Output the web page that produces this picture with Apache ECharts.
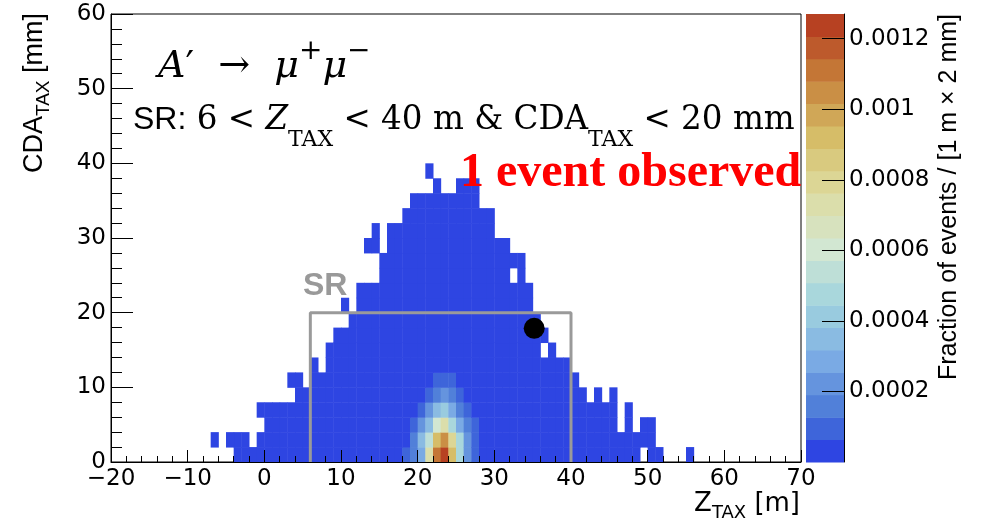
<!DOCTYPE html>
<html>
<head>
<meta charset="utf-8">
<title>A' to mu+ mu- : CDA vs Z</title>
<script src="https://cdn.jsdelivr.net/npm/echarts@6/dist/echarts.min.js"></script>
<style>html,body{margin:0;padding:0;background:#fff}#chart{width:986px;height:527px}</style>
</head>
<body>
<div id="chart"></div>
<script>
// ---------------- data ----------------
// Z_TAX bins (lower edge, m; 1 m wide) and the top of the filled column (CDA_TAX, mm; 2 mm bins)
const zBinLow = [-7,-6,-5,-4,-3,-2,-1,0,1,2,3,4,5,6,7,8,9,10,11,12,13,14,15,16,17,18,19,20,21,22,23,24,25,26,27,28,29,30,31,32,33,34,35,36,37,38,39,40,41,42,43,44,45,46,47,48,49,50,51,52,53,54,55];
const cdaTop  = [ 0, 0, 0, 4, 4, 2, 4,8,8,8,8,12,10,14,12,16,18,18,20,24,24,24,28,32,32,34,36,36,36,38,36,36,38,38,38,34,34,30,30,28,28,24,20,14,16,14,14,12,10, 8,10, 8,10, 4, 8, 4, 6, 6, 2, 0, 0, 0, 2];
// isolated filled cells above the columns [Z low edge, CDA low edge]
const extraCells = [[-7,2],[-5,2],[-1,6],[3,10],[10,20],[13,28],[14,28],[14,30],[21,38],[36,16]];
// empty cells inside the columns
const holeCells = [[32,24],[49,0]];
// fraction of events in the ordinary (lowest colour) cells
const baseFraction = 0.00003;
// hot spot: rows of CDA (0-2, 2-4, ... mm), columns Z = 18 ... 27 m
const hotZStart = 18;
const hotCdaLow = [0, 2, 4, 6, 8, 10];
const hotRows = [
  [0.00009, 0.00016, 0.00028, 0.00073, 0.00111, 0.00126, 0.00092, 0.00047, 0.00022, 0.00009],
  [0.00003, 0.00016, 0.00035, 0.00054, 0.00092, 0.00105, 0.00079, 0.00047, 0.00022, 0.00009],
  [0.00003, 0.00009, 0.00022, 0.00035, 0.00060, 0.00073, 0.00047, 0.00028, 0.00016, 0.00009],
  [0.00003, 0.00003, 0.00009, 0.00022, 0.00035, 0.00041, 0.00028, 0.00016, 0.00009, 0.00003],
  [0.00003, 0.00003, 0.00003, 0.00009, 0.00016, 0.00022, 0.00016, 0.00009, 0.00003, 0.00003],
  [0.00003, 0.00003, 0.00003, 0.00003, 0.00009, 0.00009, 0.00009, 0.00003, 0.00003, 0.00003]
];
// observed event
const eventZ = [35.2];
const eventCda = [17.9];
// signal region box
const srZ   = [6, 6, 40, 40];
const srCda = [0, 20, 20, 0];
// colour scale
const zColMin = 0;
const zColMax = 0.00127;
const nLevels = 20;
const colorTickStep = 0.0002;

// ---------------- palette (ROOT kLightTemperature) ----------------
const ltStops = [0, 0.125, 0.25, 0.375, 0.5, 0.625, 0.75, 0.875, 1];
const ltR = [31, 71, 123, 160, 210, 222, 214, 199, 183];
const ltG = [40, 117, 171, 211, 231, 220, 190, 132, 65];
const ltB = [234, 214, 228, 222, 210, 160, 105, 60, 34];
function palette(t) {
  let k = 0;
  while (k < ltStops.length - 2 && t > ltStops[k + 1]) k++;
  const f = (t - ltStops[k]) / (ltStops[k + 1] - ltStops[k]);
  const c = a => Math.round(a[k] + f * (a[k + 1] - a[k]));
  return 'rgb(' + c(ltR) + ',' + c(ltG) + ',' + c(ltB) + ')';
}
const levelW = (zColMax - zColMin) / nLevels;
const pieces = [];
const bandData = [];
for (let c = 0; c < nLevels; c++) {
  const idx = Math.floor((c + 0.99) * 255 / nLevels);
  const lo = zColMin + c * levelW, hi = zColMin + (c + 1) * levelW;
  const p = { gte: lo, color: palette(idx / 254) };
  if (c === nLevels - 1) p.lte = hi; else p.lt = hi;
  pieces.push(p);
  bandData.push([lo, hi, (lo + hi) / 2]);
}

// ---------------- build the histogram cells ----------------
const cells = new Map();
zBinLow.forEach((z, i) => {
  for (let y = 0; y < cdaTop[i]; y += 2) cells.set(z + ',' + y, [z, y, baseFraction]);
});
extraCells.forEach(([z, y]) => cells.set(z + ',' + y, [z, y, baseFraction]));
holeCells.forEach(([z, y]) => cells.delete(z + ',' + y));
hotRows.forEach((row, r) => row.forEach((v, k) => {
  const z = hotZStart + k, y = hotCdaLow[r];
  cells.set(z + ',' + y, [z, y, v]);
}));
const histData = Array.from(cells.values());

// ---------------- chart ----------------
const tickFont = { fontFamily: 'DejaVu Sans', fontSize: 23, color: '#000' };
const chart = echarts.init(document.getElementById('chart'), null, { renderer: 'canvas' });
chart.setOption({
  animation: false,
  backgroundColor: '#fff',
  grid: [
    { left: 111, top: 14, width: 690, height: 448, show: true, borderColor: '#000', borderWidth: 1, backgroundColor: 'transparent' },
    { left: 806, top: 14, width: 38, height: 448 }
  ],
  xAxis: [
    { gridIndex: 0, type: 'value', min: -20, max: 70, interval: 10, z: 10,
      axisLine: { show: true, onZero: false, lineStyle: { color: '#000', width: 1 } },
      axisTick: { show: true, inside: true, length: 12, lineStyle: { color: '#000' } },
      minorTick: { show: true, splitNumber: 5, length: 6, lineStyle: { color: '#000' } },
      splitLine: { show: false },
      axisLabel: Object.assign({ margin: 6, formatter: v => (v < 0 ? '\u2212' + Math.abs(v) : String(v)) }, tickFont) },
    { gridIndex: 1, type: 'value', min: 0, max: 1, show: false }
  ],
  yAxis: [
    { gridIndex: 0, type: 'value', min: 0, max: 60, interval: 10, z: 10,
      axisLine: { show: true, onZero: false, lineStyle: { color: '#000', width: 1 } },
      axisTick: { show: true, inside: true, length: 22, lineStyle: { color: '#000' } },
      minorTick: { show: true, splitNumber: 5, length: 11, lineStyle: { color: '#000' } },
      splitLine: { show: false },
      axisLabel: Object.assign({ margin: 5 }, tickFont) },
    { gridIndex: 1, type: 'value', position: 'right', min: zColMin, max: zColMax, interval: colorTickStep, z: 10,
      axisLine: { show: true, onZero: false, lineStyle: { color: '#000', width: 1 } },
      axisTick: { show: true, inside: true, length: 22, lineStyle: { color: '#000' } },
      splitLine: { show: false },
      axisLabel: Object.assign({ margin: 5, showMaxLabel: false, showMinLabel: false,
        formatter: v => (v === 0 ? '' : String(parseFloat(v.toPrecision(6)))) }, tickFont) }
  ],
  visualMap: {
    type: 'piecewise', show: false, dimension: 2, seriesIndex: [0, 1], pieces: pieces
  },
  series: [
    { type: 'custom', xAxisIndex: 0, yAxisIndex: 0, z: 2, data: histData,
      encode: { x: 0, y: 1 },
      renderItem: (params, api) => {
        const z = api.value(0), y = api.value(1);
        const p0 = api.coord([z, y + 2]);
        const p1 = api.coord([z + 1, y]);
        return { type: 'rect',
          shape: { x: p0[0], y: p0[1], width: p1[0] - p0[0] + 0.5, height: p1[1] - p0[1] + 0.5 },
          style: { fill: api.visual('color') } };
      } },
    { type: 'custom', xAxisIndex: 1, yAxisIndex: 1, z: 2, data: bandData,
      encode: { y: [0, 1] },
      renderItem: (params, api) => {
        const p0 = api.coord([0, api.value(1)]);
        const p1 = api.coord([1, api.value(0)]);
        return { type: 'rect',
          shape: { x: p0[0], y: p0[1], width: p1[0] - p0[0], height: p1[1] - p0[1] + 0.5 },
          style: { fill: api.visual('color') } };
      } },
    { type: 'line', xAxisIndex: 0, yAxisIndex: 0, z: 15, symbol: 'none',
      data: srZ.map((z, i) => [z, srCda[i]]),
      lineStyle: { color: '#9a9a9a', width: 3 } },
    { type: 'scatter', xAxisIndex: 0, yAxisIndex: 0, z: 20, symbol: 'circle', symbolSize: 21,
      data: eventZ.map((z, i) => [z, eventCda[i]]),
      itemStyle: { color: '#000', opacity: 1 } }
  ],
  graphic: [
    { type: 'text', x: 158, y: 38, z: 30, style: {
        text: '{i|A}{n|\u2032  \u2192  }{i|\u03bc}{p|+}{i|\u03bc}{p|\u2212}',
        align: 'left', verticalAlign: 'top', fill: '#000',
        rich: {
          i: { fontFamily: 'DejaVu Serif', fontStyle: 'italic', fontSize: 38, lineHeight: 48, verticalAlign: 'bottom', fill: '#000' },
          n: { fontFamily: 'DejaVu Serif', fontSize: 38, lineHeight: 48, verticalAlign: 'bottom', fill: '#000' },
          p: { fontFamily: 'DejaVu Serif', fontSize: 28, verticalAlign: 'top', fill: '#000' }
        } } },
    { type: 'text', x: 133, y: 104, z: 30, style: {
        text: '{s|SR:}{n| 6 < }{i|Z}{b|TAX}{n| < 40 m & CDA}{b|TAX}{n| < 20 mm}',
        align: 'left', verticalAlign: 'top', fill: '#000',
        rich: {
          s: { fontFamily: 'Liberation Sans', fontSize: 32, lineHeight: 47, verticalAlign: 'top', fill: '#000' },
          n: { fontFamily: 'DejaVu Serif', fontSize: 32.6, lineHeight: 47, verticalAlign: 'top', fill: '#000' },
          i: { fontFamily: 'DejaVu Serif', fontStyle: 'italic', fontSize: 32.6, lineHeight: 47, verticalAlign: 'top', fill: '#000' },
          b: { fontFamily: 'DejaVu Serif', fontSize: 22, verticalAlign: 'bottom', fill: '#000' }
        } } },
    { type: 'text', x: 460, y: 174, z: 30, style: {
        text: '1 event observed', fontFamily: 'Liberation Serif', fontWeight: 'bold', fontSize: 48,
        fill: '#ff0000', align: 'left', verticalAlign: 'middle' } },
    { type: 'text', x: 303, y: 286, z: 30, style: {
        text: 'SR', fontFamily: 'Liberation Sans', fontWeight: 'bold', fontSize: 32,
        fill: '#999999', align: 'left', verticalAlign: 'middle' } },
    { type: 'text', x: 800, y: 491, z: 30, style: {
        text: '{m|Z}{b|TAX}{m| [m]}', align: 'right', verticalAlign: 'top', fill: '#000',
        rich: {
          m: { fontFamily: 'DejaVu Sans', fontSize: 26, lineHeight: 31, verticalAlign: 'top', fill: '#000' },
          b: { fontFamily: 'DejaVu Sans', fontSize: 18, verticalAlign: 'bottom', fill: '#000' }
        } } },
    { type: 'text', x: 21, y: 13, z: 30, rotation: Math.PI / 2, style: {
        text: '{m|CDA}{b|TAX}{m| [mm]}', align: 'right', verticalAlign: 'top', fill: '#000',
        rich: {
          m: { fontFamily: 'Liberation Sans', fontSize: 27, lineHeight: 32, verticalAlign: 'top', fill: '#000' },
          b: { fontFamily: 'Liberation Sans', fontSize: 19, verticalAlign: 'bottom', fill: '#000' }
        } } },
    { type: 'text', x: 937, y: 14, z: 30, rotation: Math.PI / 2, style: {
        text: 'Fraction of events / [1 m \u00d7 2 mm]', fontFamily: 'Liberation Sans', fontSize: 25,
        fill: '#000', align: 'right', verticalAlign: 'top' } }
  ]
});
</script>
</body>
</html>
